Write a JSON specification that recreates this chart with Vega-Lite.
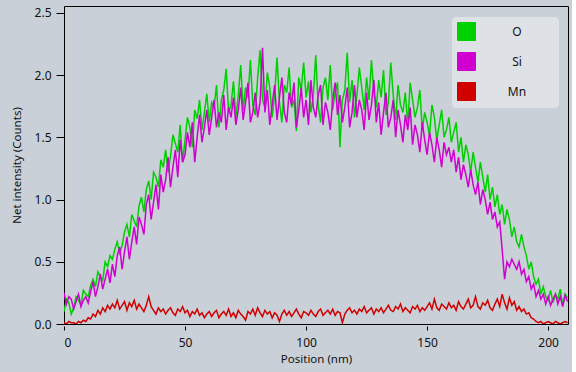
{
"$schema":"https://vega.github.io/schema/vega-lite/v6.json",
"width":504,"height":318,
"autosize":"none",
"padding":{"left":64,"top":6,"right":4,"bottom":48},
"background":"#c9d0d7",
"config":{"view":{"stroke":"#000","strokeWidth":1,"fill":"#c9d0d7"},"font":"Noto Sans"},
"data":{"values":[
{"x":0,"O":0.10,"Si":0.25,"Mn":0.01},{"x":1,"O":0.20,"Si":0.16,"Mn":0.00},{"x":2,"O":0.17,"Si":0.22,"Mn":0.02},{"x":3,"O":0.08,"Si":0.20,"Mn":0.01},{"x":4,"O":0.13,"Si":0.12,"Mn":0.01},{"x":5,"O":0.22,"Si":0.18,"Mn":0.00},{"x":6,"O":0.19,"Si":0.24,"Mn":0.02},{"x":7,"O":0.15,"Si":0.14,"Mn":0.01},{"x":8,"O":0.27,"Si":0.19,"Mn":0.03},{"x":9,"O":0.24,"Si":0.22,"Mn":0.02},
{"x":10,"O":0.22,"Si":0.17,"Mn":0.05},{"x":11,"O":0.31,"Si":0.26,"Mn":0.04},{"x":12,"O":0.36,"Si":0.34,"Mn":0.08},{"x":13,"O":0.30,"Si":0.22,"Mn":0.06},{"x":14,"O":0.42,"Si":0.30,"Mn":0.11},{"x":15,"O":0.38,"Si":0.40,"Mn":0.08},{"x":16,"O":0.35,"Si":0.28,"Mn":0.13},{"x":17,"O":0.50,"Si":0.36,"Mn":0.10},{"x":18,"O":0.46,"Si":0.44,"Mn":0.15},{"x":19,"O":0.55,"Si":0.33,"Mn":0.12},
{"x":20,"O":0.52,"Si":0.48,"Mn":0.16},{"x":21,"O":0.60,"Si":0.38,"Mn":0.13},{"x":22,"O":0.66,"Si":0.55,"Mn":0.19},{"x":23,"O":0.57,"Si":0.62,"Mn":0.12},{"x":24,"O":0.63,"Si":0.44,"Mn":0.15},{"x":25,"O":0.74,"Si":0.58,"Mn":0.18},{"x":26,"O":0.80,"Si":0.70,"Mn":0.11},{"x":27,"O":0.70,"Si":0.52,"Mn":0.17},{"x":28,"O":0.88,"Si":0.66,"Mn":0.14},{"x":29,"O":0.83,"Si":0.78,"Mn":0.19},
{"x":30,"O":0.78,"Si":0.64,"Mn":0.12},{"x":31,"O":0.95,"Si":0.86,"Mn":0.16},{"x":32,"O":1.02,"Si":0.80,"Mn":0.13},{"x":33,"O":0.90,"Si":0.72,"Mn":0.10},{"x":34,"O":1.08,"Si":0.96,"Mn":0.15},{"x":35,"O":1.15,"Si":1.04,"Mn":0.22},{"x":36,"O":1.00,"Si":0.84,"Mn":0.14},{"x":37,"O":1.22,"Si":0.98,"Mn":0.11},{"x":38,"O":1.18,"Si":1.12,"Mn":0.08},{"x":39,"O":1.10,"Si":0.92,"Mn":0.13},
{"x":40,"O":1.32,"Si":1.20,"Mn":0.10},{"x":41,"O":1.26,"Si":1.06,"Mn":0.12},{"x":42,"O":1.40,"Si":1.16,"Mn":0.08},{"x":43,"O":1.22,"Si":1.34,"Mn":0.11},{"x":44,"O":1.35,"Si":1.10,"Mn":0.13},{"x":45,"O":1.52,"Si":1.26,"Mn":0.09},{"x":46,"O":1.45,"Si":1.40,"Mn":0.07},{"x":47,"O":1.38,"Si":1.18,"Mn":0.12},{"x":48,"O":1.60,"Si":1.48,"Mn":0.10},{"x":49,"O":1.30,"Si":1.30,"Mn":0.14},
{"x":50,"O":1.48,"Si":1.36,"Mn":0.09},{"x":51,"O":1.66,"Si":1.54,"Mn":0.11},{"x":52,"O":1.58,"Si":1.42,"Mn":0.06},{"x":53,"O":1.42,"Si":1.62,"Mn":0.10},{"x":54,"O":1.72,"Si":1.30,"Mn":0.08},{"x":55,"O":1.65,"Si":1.50,"Mn":0.12},{"x":56,"O":1.80,"Si":1.68,"Mn":0.07},{"x":57,"O":1.56,"Si":1.46,"Mn":0.09},{"x":58,"O":1.70,"Si":1.58,"Mn":0.05},{"x":59,"O":1.85,"Si":1.72,"Mn":0.08},
{"x":60,"O":1.62,"Si":1.52,"Mn":0.10},{"x":61,"O":1.78,"Si":1.66,"Mn":0.06},{"x":62,"O":1.74,"Si":1.80,"Mn":0.09},{"x":63,"O":1.92,"Si":1.58,"Mn":0.11},{"x":64,"O":1.58,"Si":1.70,"Mn":0.05},{"x":65,"O":1.80,"Si":1.62,"Mn":0.08},{"x":66,"O":1.88,"Si":1.84,"Mn":0.10},{"x":67,"O":2.05,"Si":1.56,"Mn":0.07},{"x":68,"O":1.70,"Si":1.74,"Mn":0.12},{"x":69,"O":1.76,"Si":1.66,"Mn":0.06},
{"x":70,"O":1.95,"Si":1.82,"Mn":0.09},{"x":71,"O":1.66,"Si":1.60,"Mn":0.05},{"x":72,"O":1.84,"Si":1.72,"Mn":0.11},{"x":73,"O":2.08,"Si":1.90,"Mn":0.08},{"x":74,"O":1.72,"Si":1.64,"Mn":0.06},{"x":75,"O":1.90,"Si":1.78,"Mn":0.03},{"x":76,"O":1.82,"Si":1.94,"Mn":0.10},{"x":77,"O":2.12,"Si":1.62,"Mn":0.08},{"x":78,"O":1.76,"Si":1.70,"Mn":0.12},{"x":79,"O":1.68,"Si":1.86,"Mn":0.07},
{"x":80,"O":1.98,"Si":1.66,"Mn":0.13},{"x":81,"O":2.20,"Si":1.78,"Mn":0.09},{"x":82,"O":1.80,"Si":2.22,"Mn":0.06},{"x":83,"O":1.74,"Si":1.70,"Mn":0.11},{"x":84,"O":2.02,"Si":1.88,"Mn":0.08},{"x":85,"O":1.90,"Si":1.60,"Mn":0.10},{"x":86,"O":1.66,"Si":1.76,"Mn":0.05},{"x":87,"O":1.84,"Si":1.92,"Mn":0.09},{"x":88,"O":2.14,"Si":1.64,"Mn":0.07},{"x":89,"O":1.78,"Si":1.82,"Mn":0.02},
{"x":90,"O":1.62,"Si":1.98,"Mn":0.08},{"x":91,"O":1.92,"Si":1.70,"Mn":0.11},{"x":92,"O":1.86,"Si":1.62,"Mn":0.07},{"x":93,"O":2.06,"Si":1.86,"Mn":0.10},{"x":94,"O":1.74,"Si":1.76,"Mn":0.06},{"x":95,"O":1.80,"Si":1.94,"Mn":0.09},{"x":96,"O":1.55,"Si":1.58,"Mn":0.12},{"x":97,"O":1.98,"Si":1.72,"Mn":0.08},{"x":98,"O":1.88,"Si":1.90,"Mn":0.05},{"x":99,"O":2.10,"Si":1.66,"Mn":0.10},
{"x":100,"O":1.82,"Si":1.80,"Mn":0.09},{"x":101,"O":1.95,"Si":1.60,"Mn":0.07},{"x":102,"O":1.70,"Si":1.96,"Mn":0.11},{"x":103,"O":1.84,"Si":1.74,"Mn":0.08},{"x":104,"O":2.16,"Si":1.66,"Mn":0.06},{"x":105,"O":1.76,"Si":1.84,"Mn":0.10},{"x":106,"O":1.62,"Si":1.92,"Mn":0.12},{"x":107,"O":1.90,"Si":1.60,"Mn":0.07},{"x":108,"O":1.98,"Si":1.78,"Mn":0.09},{"x":109,"O":1.80,"Si":1.70,"Mn":0.11},
{"x":110,"O":2.08,"Si":1.56,"Mn":0.08},{"x":111,"O":1.72,"Si":1.80,"Mn":0.12},{"x":112,"O":1.86,"Si":1.94,"Mn":0.07},{"x":113,"O":1.94,"Si":1.68,"Mn":0.10},{"x":114,"O":1.42,"Si":1.84,"Mn":0.09},{"x":115,"O":1.80,"Si":1.62,"Mn":0.01},{"x":116,"O":1.88,"Si":1.74,"Mn":0.08},{"x":117,"O":2.18,"Si":1.90,"Mn":0.11},{"x":118,"O":1.78,"Si":1.58,"Mn":0.13},{"x":119,"O":1.96,"Si":1.70,"Mn":0.09},
{"x":120,"O":1.66,"Si":1.92,"Mn":0.11},{"x":121,"O":1.84,"Si":1.66,"Mn":0.08},{"x":122,"O":2.06,"Si":1.80,"Mn":0.12},{"x":123,"O":1.90,"Si":1.72,"Mn":0.10},{"x":124,"O":1.72,"Si":1.56,"Mn":0.14},{"x":125,"O":1.98,"Si":1.86,"Mn":0.09},{"x":126,"O":1.80,"Si":1.64,"Mn":0.11},{"x":127,"O":2.12,"Si":1.76,"Mn":0.13},{"x":128,"O":1.86,"Si":1.96,"Mn":0.08},{"x":129,"O":1.74,"Si":1.62,"Mn":0.12},
{"x":130,"O":1.96,"Si":1.78,"Mn":0.10},{"x":131,"O":1.82,"Si":1.52,"Mn":0.13},{"x":132,"O":2.04,"Si":1.70,"Mn":0.09},{"x":133,"O":1.68,"Si":1.86,"Mn":0.12},{"x":134,"O":1.78,"Si":1.58,"Mn":0.15},{"x":135,"O":2.10,"Si":1.66,"Mn":0.11},{"x":136,"O":1.84,"Si":1.80,"Mn":0.10},{"x":137,"O":1.64,"Si":1.50,"Mn":0.14},{"x":138,"O":1.92,"Si":1.72,"Mn":0.12},{"x":139,"O":1.76,"Si":1.60,"Mn":0.16},
{"x":140,"O":1.70,"Si":1.46,"Mn":0.10},{"x":141,"O":1.86,"Si":1.68,"Mn":0.13},{"x":142,"O":1.60,"Si":1.56,"Mn":0.11},{"x":143,"O":1.94,"Si":1.74,"Mn":0.09},{"x":144,"O":1.80,"Si":1.44,"Mn":0.14},{"x":145,"O":1.66,"Si":1.60,"Mn":0.12},{"x":146,"O":1.74,"Si":1.52,"Mn":0.15},{"x":147,"O":1.88,"Si":1.38,"Mn":0.10},{"x":148,"O":1.56,"Si":1.62,"Mn":0.13},{"x":149,"O":1.70,"Si":1.48,"Mn":0.11},
{"x":150,"O":1.62,"Si":1.36,"Mn":0.14},{"x":151,"O":1.52,"Si":1.54,"Mn":0.17},{"x":152,"O":1.76,"Si":1.44,"Mn":0.12},{"x":153,"O":1.66,"Si":1.30,"Mn":0.20},{"x":154,"O":1.48,"Si":1.50,"Mn":0.13},{"x":155,"O":1.60,"Si":1.40,"Mn":0.11},{"x":156,"O":1.72,"Si":1.26,"Mn":0.16},{"x":157,"O":1.50,"Si":1.46,"Mn":0.14},{"x":158,"O":1.56,"Si":1.36,"Mn":0.12},{"x":159,"O":1.66,"Si":1.42,"Mn":0.17},
{"x":160,"O":1.46,"Si":1.30,"Mn":0.13},{"x":161,"O":1.54,"Si":1.40,"Mn":0.15},{"x":162,"O":1.62,"Si":1.22,"Mn":0.11},{"x":163,"O":1.38,"Si":1.34,"Mn":0.18},{"x":164,"O":1.50,"Si":1.16,"Mn":0.14},{"x":165,"O":1.30,"Si":1.28,"Mn":0.12},{"x":166,"O":1.44,"Si":1.20,"Mn":0.16},{"x":167,"O":1.36,"Si":1.10,"Mn":0.20},{"x":168,"O":1.22,"Si":1.24,"Mn":0.13},{"x":169,"O":1.38,"Si":1.12,"Mn":0.15},
{"x":170,"O":1.26,"Si":1.04,"Mn":0.22},{"x":171,"O":1.14,"Si":1.14,"Mn":0.14},{"x":172,"O":1.30,"Si":0.96,"Mn":0.12},{"x":173,"O":1.18,"Si":1.08,"Mn":0.17},{"x":174,"O":1.06,"Si":1.00,"Mn":0.15},{"x":175,"O":1.20,"Si":0.88,"Mn":0.19},{"x":176,"O":1.00,"Si":0.98,"Mn":0.13},{"x":177,"O":1.10,"Si":0.84,"Mn":0.11},{"x":178,"O":0.94,"Si":0.90,"Mn":0.16},{"x":179,"O":1.04,"Si":0.78,"Mn":0.20},
{"x":180,"O":0.88,"Si":0.82,"Mn":0.14},{"x":181,"O":0.96,"Si":0.60,"Mn":0.24},{"x":182,"O":0.80,"Si":0.36,"Mn":0.17},{"x":183,"O":0.92,"Si":0.50,"Mn":0.12},{"x":184,"O":0.84,"Si":0.46,"Mn":0.21},{"x":185,"O":0.70,"Si":0.52,"Mn":0.15},{"x":186,"O":0.78,"Si":0.48,"Mn":0.18},{"x":187,"O":0.66,"Si":0.44,"Mn":0.11},{"x":188,"O":0.62,"Si":0.50,"Mn":0.14},{"x":189,"O":0.72,"Si":0.40,"Mn":0.10},
{"x":190,"O":0.62,"Si":0.44,"Mn":0.12},{"x":191,"O":0.55,"Si":0.34,"Mn":0.08},{"x":192,"O":0.44,"Si":0.38,"Mn":0.09},{"x":193,"O":0.50,"Si":0.28,"Mn":0.05},{"x":194,"O":0.38,"Si":0.32,"Mn":0.04},{"x":195,"O":0.32,"Si":0.22,"Mn":0.02},{"x":196,"O":0.36,"Si":0.27,"Mn":0.01},{"x":197,"O":0.24,"Si":0.20,"Mn":0.02},{"x":198,"O":0.30,"Si":0.24,"Mn":0.00},{"x":199,"O":0.22,"Si":0.16,"Mn":0.01},
{"x":200,"O":0.19,"Si":0.22,"Mn":0.02},{"x":201,"O":0.27,"Si":0.15,"Mn":0.01},{"x":202,"O":0.17,"Si":0.20,"Mn":0.00},{"x":203,"O":0.24,"Si":0.24,"Mn":0.02},{"x":204,"O":0.20,"Si":0.16,"Mn":0.01},{"x":205,"O":0.28,"Si":0.22,"Mn":0.00},{"x":206,"O":0.15,"Si":0.14,"Mn":0.01},{"x":207,"O":0.24,"Si":0.23,"Mn":0.02},{"x":208,"O":0.21,"Si":0.18,"Mn":0.01}
]},
"transform":[{"fold":["O","Si","Mn"],"as":["element","value"]}],
"mark":{"type":"line","strokeWidth":1.5,"clip":true},
"encoding":{
"x":{"field":"x","type":"quantitative","scale":{"domain":[0,208.2],"nice":false,"zero":false},
"axis":{"title":"Position (nm)","values":[0,50,100,150,200],"grid":false,"domain":false,"offset":2,"tickSize":4,"tickColor":"#000","labelColor":"#111","labelFontSize":12,"labelPadding":7,"titleFontSize":11.5,"titleFontWeight":"normal","titleColor":"#111","titlePadding":5}},
"y":{"field":"value","type":"quantitative","scale":{"domain":[0,2.555],"nice":false},
"axis":{"title":"Net intensity (Counts)","values":[0,0.5,1,1.5,2,2.5],"format":".1f","grid":false,"domain":false,"tickSize":8,"tickColor":"#000","labelColor":"#111","labelFontSize":12,"labelPadding":5,"titleFontSize":11.5,"titleFontWeight":"normal","titleColor":"#111","titlePadding":12}},
"color":{"field":"element","type":"nominal","scale":{"domain":["O","Si","Mn"],"range":["#00d000","#d000d0","#d00000"]},
"legend":{"title":null,"orient":"none","legendX":388,"legendY":11,"fillColor":"#dee2e7","cornerRadius":4,"padding":5,"symbolType":"square","symbolSize":324,"symbolStrokeWidth":1,"rowPadding":7,"labelAlign":"center","labelOffset":41,"labelFontSize":12,"labelColor":"#111","labelExpr":"'\u2800\u2800\u2800' + datum.label + '\u2800\u2800\u2800'",
"encode":{"symbols":{"update":{"fill":{"scale":"color","field":"value"},"stroke":{"value":"#222"},"fillOpacity":{"value":1},"opacity":{"value":1}}}}}}
}
}
